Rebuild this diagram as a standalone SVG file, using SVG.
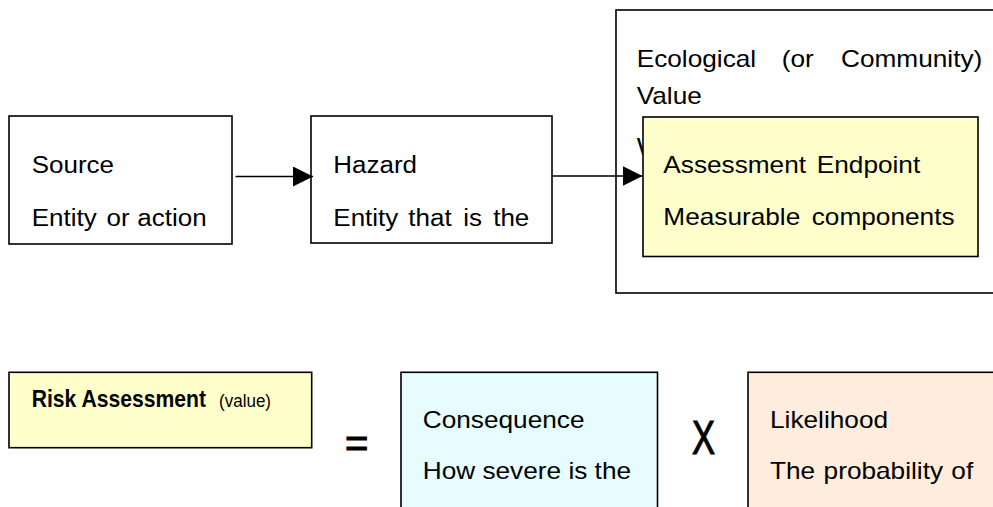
<svg xmlns="http://www.w3.org/2000/svg" width="993" height="507" viewBox="0 0 993 507">
<defs>
<style>
.box{stroke:#000;stroke-width:1.6;}
.white{fill:#fff;}
.yel{fill:#ffffcc;}
.cyan{fill:#e6fcff;}
.peach{fill:#feecdc;}
.t{font-family:"Liberation Sans",Arial,sans-serif;font-size:23px;fill:#000;}
.rb{font-family:"Liberation Sans",Arial,sans-serif;font-size:23px;font-weight:bold;fill:#000;}
.rs{font-family:"Liberation Sans",Arial,sans-serif;font-size:18.5px;font-weight:normal;fill:#000;}
.op{stroke:#000;stroke-width:1.1;}
.conn{stroke:#000;stroke-width:1.6;fill:none;marker-end:url(#ah);}
</style>
<marker id="ah" markerUnits="userSpaceOnUse" markerWidth="21" markerHeight="21" refX="20" refY="10" orient="auto" viewBox="0 0 21 21">
<path d="M0,0 L20,10 L0,20 Z" fill="#000"/>
</marker>
</defs>
<rect x="0" y="0" width="993" height="507" fill="#fff"/>

<g id="source">
<rect class="box white" x="9" y="116" width="223" height="128"/>
<text class="t" transform="matrix(1.13 0 0 1 31.7 172.7)">Source</text>
<text class="t" transform="matrix(1.13 0 0 1 31.7 225.5)"><tspan x="0">Entity</tspan><tspan x="66.3">or</tspan><tspan x="93.5">action</tspan></text>
</g>

<g id="hazard">
<rect class="box white" x="311" y="116" width="241" height="127"/>
<text class="t" transform="matrix(1.13 0 0 1 333.3 172.7)">Hazard</text>
<text class="t" transform="matrix(1.13 0 0 1 333.3 225.5)"><tspan x="0">Entity</tspan><tspan x="66.4">that</tspan><tspan x="115">is</tspan><tspan x="141.5">the</tspan></text>
</g>

<g id="ecological-value">
<rect class="box white" x="616" y="10" width="400" height="283"/>
<text class="t" transform="matrix(1.14 0 0 1 636.7 66.7)"><tspan x="0">Ecological</tspan><tspan x="127.2">(or</tspan><tspan x="179.2">Community)</tspan></text>
<text class="t" transform="matrix(1.14 0 0 1 636.7 104.3)">Value</text>
<text class="t" transform="matrix(1.14 0 0 1 636.7 155)">W</text>
</g>

<g id="assessment-endpoint">
<rect class="box yel" x="643" y="117" width="335" height="139.5"/>
<text class="t" transform="matrix(1.14 0 0 1 663.3 172.7)"><tspan x="0">Assessment</tspan><tspan x="134.6">Endpoint</tspan></text>
<text class="t" transform="matrix(1.14 0 0 1 663.3 225)"><tspan x="0">Measurable</tspan><tspan x="130.2">components</tspan></text>
</g>

<g id="connectors">
<line class="conn" x1="235.5" y1="176.5" x2="313" y2="176.5"/>
<line class="conn" x1="552" y1="176" x2="642.5" y2="176"/>
</g>

<g id="risk-assessment">
<rect class="box yel" x="9" y="372.3" width="302.7" height="75.4"/>
<text transform="matrix(0.92 0 0 1 31.7 406.7)"><tspan class="rb" x="0">Risk Assessment</tspan><tspan class="rs" x="203.6">(value)</tspan></text>
</g>

<g id="equals">
<text class="t op" x="356.7" y="457" text-anchor="middle" style="font-size:40px">=</text>
</g>

<g id="consequence">
<rect class="box cyan" x="401" y="372.3" width="256.5" height="150"/>
<text class="t" transform="matrix(1.14 0 0 1 422.7 428.3)">Consequence</text>
<text class="t" transform="matrix(1.14 0 0 1 422.7 479)">How severe is the</text>
</g>

<g id="times">
<text class="t op" x="692" y="454" textLength="23" lengthAdjust="spacingAndGlyphs" style="font-size:49px">X</text>
</g>

<g id="likelihood">
<rect class="box peach" x="748" y="372.3" width="300" height="150"/>
<text class="t" transform="matrix(1.14 0 0 1 770 428.3)">Likelihood</text>
<text class="t" transform="matrix(1.14 0 0 1 770 479)"><tspan x="0">The</tspan><tspan x="47">probability</tspan><tspan x="159.1">of</tspan></text>
</g>
</svg>
